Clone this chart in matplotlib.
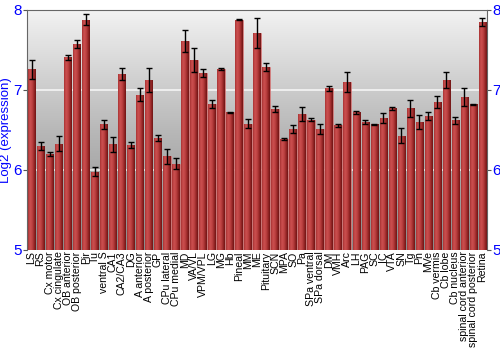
import numpy as np
import matplotlib
matplotlib.use("Agg")
import matplotlib.pyplot as plt
from matplotlib.colors import LinearSegmentedColormap

plt.rcParams['font.family'] = ['Liberation Sans', 'DejaVu Sans']

categories = ["LS", "RS", "Cx motor", "Cx cingulate", "OB anterior", "OB posterior", "Pir", "Tu",
              "ventral S", "CA1", "CA2/CA3", "DG", "A anterior", "A posterior", "GP", "CPu lateral",
              "CPu medial", "MD", "VA/VL", "VPM/VPL", "LG", "MG", "Hb", "Pineal", "MM", "ME",
              "Pituitary", "SCN", "MPA", "SO", "Pa", "SPa ventral", "SPa dorsal", "DM", "VMH", "Arc",
              "LH", "PAG", "SC", "IC", "VTA", "SN", "Tg", "Pn", "MVe", "Cb vermis", "Cb lobe",
              "Cb nucleus", "spinal cord anterior", "spinal cord posterior", "Retina"]
values = [7.26, 6.30, 6.20, 6.33, 7.41, 7.57, 7.88, 5.98,
          6.57, 6.32, 7.20, 6.31, 6.94, 7.12, 6.40, 6.17,
          6.08, 7.61, 7.38, 7.21, 6.83, 7.26, 6.72, 7.88, 6.58, 7.71,
          7.29, 6.76, 6.39, 6.51, 6.70, 6.63, 6.51, 7.02, 6.56, 7.10,
          6.72, 6.60, 6.57, 6.65, 6.77, 6.43, 6.77, 6.60, 6.68, 6.85, 7.13,
          6.62, 6.91, 6.82, 7.85]
errors = [0.12, 0.05, 0.03, 0.09, 0.03, 0.05, 0.07, 0.06,
          0.06, 0.09, 0.07, 0.04, 0.08, 0.15, 0.04, 0.09,
          0.07, 0.14, 0.15, 0.05, 0.05, 0.01, 0.005, 0.01, 0.06, 0.19,
          0.05, 0.04, 0.01, 0.05, 0.09, 0.02, 0.06, 0.03, 0.02, 0.13,
          0.02, 0.03, 0.005, 0.06, 0.02, 0.09, 0.11, 0.09, 0.05, 0.07, 0.10,
          0.04, 0.11, 0.005, 0.05]
yticks = [5, 6, 7, 8]

fig = plt.figure(figsize=(5, 3.5), dpi=100)
ax = fig.add_axes([27/500, 1-250/350, 460/500, 240/350])

x = np.arange(len(categories))
ax.set_xlim(-0.5, len(categories) - 0.5)
ax.set_ylim(5, 8)

# background gradient
bg = LinearSegmentedColormap.from_list('bg', ['#8a8a8a', '#b8b8b8', '#f2f2f2'])
grad = np.linspace(0, 1, 256).reshape(-1, 1)
ax.imshow(grad, cmap=bg, aspect='auto', origin='lower',
          extent=[-0.5, len(categories) - 0.5, 5, 8], zorder=0)

for yv in [6, 7]:
    ax.axhline(yv, color='white', lw=1.2, alpha=0.8, zorder=1)

bars = ax.bar(x, values, width=0.82, bottom=0, color='#b33a3a', edgecolor='#d88080',
              linewidth=0.5, zorder=2)
barcm = LinearSegmentedColormap.from_list('bar', ['#a83232', '#cc5050', '#c04444', '#9c2a2a', '#6e1414'])
hgrad = np.linspace(0, 1, 64).reshape(1, -1)
for b in bars:
    x0 = b.get_x(); w = b.get_width(); h = b.get_height()
    im = ax.imshow(hgrad, cmap=barcm, aspect='auto',
                   extent=[x0, x0 + w, 5, h], zorder=2.5)
    im.set_clip_path(b)

ax.errorbar(x, values, yerr=errors, fmt='none', ecolor='black', elinewidth=1,
            capsize=2.2, capthick=1, zorder=3)

ax.set_yticks(yticks)
ax.tick_params(axis='y', colors='#555555', labelcolor='blue', labelsize=11,
               length=3, left=True, right=True, labelleft=True, labelright=True, pad=1)
ax.set_xticks(x)
ax.set_xticklabels(categories, rotation=90, fontsize=7.6)
ax.tick_params(axis='x', length=0, pad=1)
ax.set_ylabel('Log2 (expression)', color='blue', fontsize=9.5)
ax.yaxis.set_label_coords(-0.033, 0.5)

for s in ['left', 'right', 'top']:
    ax.spines[s].set_color('#666666')
ax.spines['bottom'].set_visible(False)

fig.savefig('out.png', dpi=100)
